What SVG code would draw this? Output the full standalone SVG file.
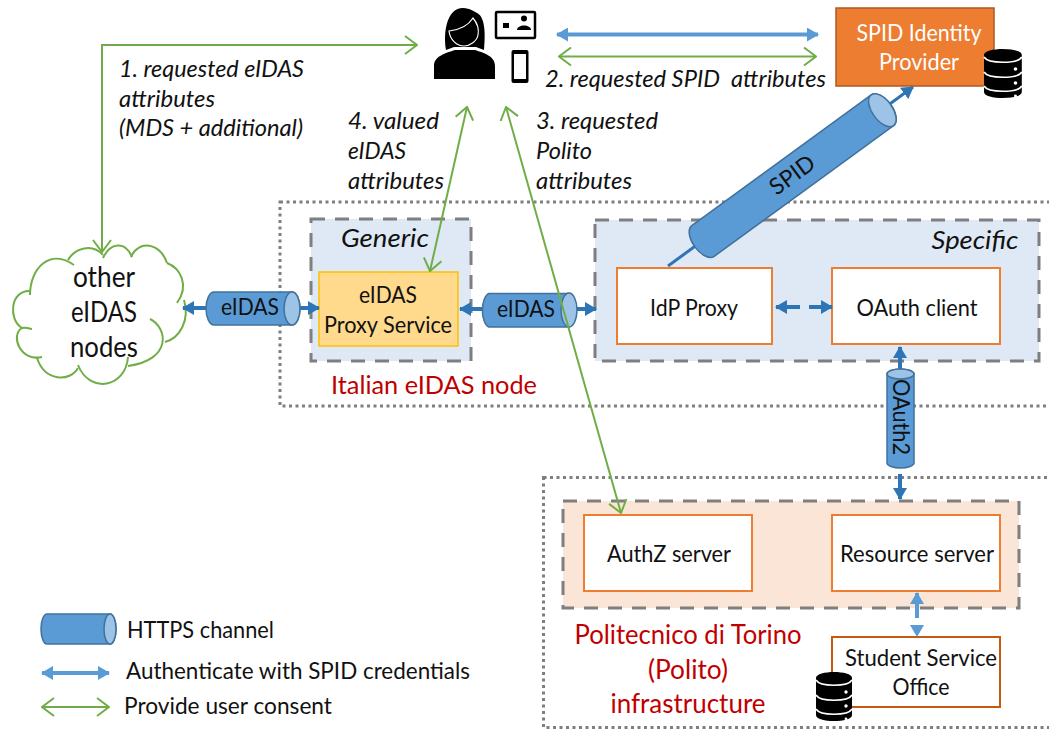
<svg xmlns="http://www.w3.org/2000/svg" xmlns:xlink="http://www.w3.org/1999/xlink" width="1049" height="730" viewBox="0 0 1049 730">
<style>
text{font-family:"Lato","Open Sans","Liberation Sans",sans-serif;font-size:23px;fill:#111;text-anchor:middle}
.l{text-anchor:start}
.i{font-style:italic}
.r{fill:#C00000}
.w{fill:#fff}
.dot{fill:none;stroke:#7F7F7F;stroke-width:3;stroke-dasharray:3 3.5}
.dash{stroke:#7F7F7F;stroke-width:3;stroke-dasharray:14 10}
.box{fill:#fff;stroke:#ED7D31;stroke-width:2}
.cyl{fill:#5B9BD5;stroke:#41719C;stroke-width:1.5}
.cap{fill:#9DC3E6;stroke:#41719C;stroke-width:1.5}
.g{fill:none;stroke:#70AD47;stroke-width:2;marker-start:url(#mg);marker-end:url(#mg)}
.b{fill:none;stroke:#5B9BD5;stroke-width:4;marker-start:url(#ml);marker-end:url(#ml)}
.d{fill:none;stroke:#2E75B6;stroke-width:4;marker-start:url(#md);marker-end:url(#md)}
.d1{fill:none;stroke:#2E75B6;stroke-width:4;marker-end:url(#md)}
.cloud path{fill:none;stroke:#70AD47;stroke-width:2}
</style>
<defs>
<marker id="mg" markerUnits="userSpaceOnUse" viewBox="0 0 14 20" refX="13" refY="10" markerWidth="14" markerHeight="20" orient="auto-start-reverse"><path d="M1,1 L13,10 L1,19" fill="none" stroke="#70AD47" stroke-width="2"/></marker>
<marker id="ml" markerUnits="userSpaceOnUse" viewBox="0 0 12 14" refX="11" refY="7" markerWidth="12" markerHeight="14" orient="auto-start-reverse"><path d="M0,0 L12,7 L0,14Z" fill="#5B9BD5"/></marker>
<marker id="md" markerUnits="userSpaceOnUse" viewBox="0 0 12 14" refX="11" refY="7" markerWidth="12" markerHeight="14" orient="auto-start-reverse"><path d="M0,0 L12,7 L0,14Z" fill="#2E75B6"/></marker>
<g id="db">
<path d="M0,6 C0,-2 36,-2 36,6 V43 C36,51 0,51 0,43Z" fill="#000"/>
<path d="M0,8 C4,15 32,15 36,8 M0,23 C4,30 32,30 36,23 M0,37 C4,44 32,44 36,37" fill="none" stroke="#fff" stroke-width="1.6"/>
<circle cx="30" cy="20" r="1.7" fill="#fff"/><circle cx="30" cy="34" r="1.7" fill="#fff"/><circle cx="30" cy="47" r="1.4" fill="#fff"/>
</g>
</defs>

<g id="italian-node"><rect class="dot" x="280" y="202" width="775" height="204"/>
<text x="434" y="394" style="font-size:25px" class="r" textLength="206" lengthAdjust="spacingAndGlyphs">Italian eIDAS node</text></g>
<g id="polito-infra"><rect class="dot" x="543.5" y="477.5" width="515" height="250"/>
<text x="688" y="644" style="font-size:27px" class="r" textLength="227" lengthAdjust="spacingAndGlyphs">Politecnico di Torino</text>
<text x="688" y="679" style="font-size:27px" class="r" textLength="80" lengthAdjust="spacingAndGlyphs">(Polito)</text>
<text x="688" y="713" style="font-size:27px" class="r" textLength="155" lengthAdjust="spacingAndGlyphs">infrastructure</text></g>
<g id="generic"><rect class="dash" x="311" y="219" width="160" height="142" fill="#DEE9F5"/>
<text x="385" y="247" class="i" style="font-size:25px" textLength="88" lengthAdjust="spacingAndGlyphs">Generic</text></g>
<g id="specific"><rect class="dash" x="595" y="220" width="444" height="141" fill="#DEE9F5"/>
<text x="975" y="249" class="i" style="font-size:25px" textLength="87" lengthAdjust="spacingAndGlyphs">Specific</text></g>
<g id="polito-services"><rect class="dash" x="563" y="501" width="456" height="107" fill="#FBE5D6"/></g>

<g id="eidas-proxy"><rect x="319" y="272" width="139" height="74" fill="#FFD98C" stroke="#FFC000" stroke-width="1.5"/>
<text x="388" y="303" textLength="58" lengthAdjust="spacingAndGlyphs">eIDAS</text>
<text x="388" y="333" textLength="128" lengthAdjust="spacingAndGlyphs">Proxy Service</text></g>
<g id="idp-proxy"><rect class="box" x="617" y="268" width="155" height="76"/><text x="694" y="316" textLength="88" lengthAdjust="spacingAndGlyphs">IdP Proxy</text></g>
<g id="oauth-client"><rect class="box" x="832" y="268" width="168" height="76"/><text x="917" y="316" textLength="121" lengthAdjust="spacingAndGlyphs">OAuth client</text></g>
<g id="authz"><rect class="box" x="584" y="515" width="168" height="76"/><text x="669" y="562" textLength="124" lengthAdjust="spacingAndGlyphs">AuthZ server</text></g>
<g id="resource"><rect class="box" x="832" y="515" width="168" height="76"/><text x="917" y="562" textLength="154" lengthAdjust="spacingAndGlyphs">Resource server</text></g>
<g id="student-office"><rect x="832" y="637" width="168" height="70" fill="#fff" stroke="#C55A11" stroke-width="2"/>
<text x="921" y="666" textLength="152" lengthAdjust="spacingAndGlyphs">Student Service</text>
<text x="921" y="695" textLength="57" lengthAdjust="spacingAndGlyphs">Office</text>
<use xlink:href="#db" href="#db" transform="translate(816,672)"/></g>
<g id="spid-idp"><rect x="836" y="8" width="158" height="78" fill="#ED7D31" stroke="#AE5A21" stroke-width="1.5"/>
<text x="919" y="41" class="w" textLength="125" lengthAdjust="spacingAndGlyphs">SPID Identity</text>
<text x="919" y="70" class="w" textLength="80" lengthAdjust="spacingAndGlyphs">Provider</text>
<use xlink:href="#db" href="#db" transform="translate(984,49) scale(1.05,1)"/></g>
<g id="other-nodes" class="cloud">
<path d="M30,295 C30,268 50,248 74,265"/>
<path d="M68,260 C75,248 92,243 103,255"/>
<path d="M103,258 C110,243 125,240 132,257"/>
<path d="M131,257 C138,240 160,242 167,263"/>
<path d="M167,263 C180,268 190,285 177,303"/>
<path d="M184,300 C190,320 180,338 165,342"/>
<path d="M150,319 C168,328 172,360 128,366"/>
<path d="M128,357 C126,387 90,395 78,365"/>
<path d="M78,368 C70,382 45,382 37,358"/>
<path d="M42,357 C20,362 10,335 22,328 C25,327 28,328 32,329"/>
<path d="M22,328 C8,320 10,290 30,291"/>
<text x="104" y="287" style="font-size:28px" textLength="62" lengthAdjust="spacingAndGlyphs">other</text>
<text x="104" y="322" style="font-size:28px" textLength="66" lengthAdjust="spacingAndGlyphs">eIDAS</text>
<text x="104" y="357" style="font-size:28px" textLength="68" lengthAdjust="spacingAndGlyphs">nodes</text>
</g>
<g id="user">
<path d="M434,79 V66 C434,56 446,53 455,50 L475,50 C484,53 495,56 495,66 V79Z" fill="#000"/>
<path d="M446,50 C443,32 447,8 463,8 C470,8 475,12 477,13 C484,16 486,30 484,50 L476,47 H454Z" fill="#000"/>
<path d="M449,31 C458,30 468,26 473,18 C478,24 479,30 478,35 C477,41 470,46 464,46 C457,46 450,40 449,31Z" fill="#000" stroke="#fff" stroke-width="1.2"/>
<rect x="496" y="12" width="39" height="26" rx="1" fill="#fff" stroke="#000" stroke-width="2.5"/>
<rect x="503" y="23" width="6" height="5" fill="#000"/>
<circle cx="524" cy="18.5" r="3" fill="#000"/>
<path d="M517,30 C517,24 531,24 531,30Z" fill="#000"/>
<rect x="511.500" y="50" width="17" height="33" rx="2" fill="#000"/>
<rect x="514" y="54" width="12" height="25" fill="#fff"/>
</g>

<g id="connectors">
<line class="b" x1="557" y1="34.500" x2="818" y2="34.500"/>
<line class="g" x1="559" y1="56.500" x2="816" y2="56.500"/>
<path class="g" d="M417,45 H102 V252"/>
<line class="d" x1="183" y1="308" x2="319" y2="308"/>
<line class="d" x1="460" y1="309" x2="596" y2="309"/>
<line x1="668" y1="266" x2="913" y2="87" fill="none" stroke="#2E75B6" stroke-width="3" marker-end="url(#md)"/>
<line class="d" x1="776" y1="307" x2="832" y2="307" stroke-dasharray="24 9 23"/>
<line class="d1" x1="900" y1="375" x2="900" y2="347"/>
<line class="d1" x1="900" y1="474" x2="900" y2="499"/>
<line class="b" x1="917" y1="593" x2="917" y2="636" stroke-dasharray="25 18"/>
<g id="ch-eidas-1"><path class="cyl" d="M214,292 H292 A8,16.500 0 0 1 292,325 H214 A8,16.500 0 0 1 214,292Z"/><ellipse class="cap" cx="292" cy="308.500" rx="8" ry="16.500"/><text x="250" y="315" textLength="58" lengthAdjust="spacingAndGlyphs">eIDAS</text></g>
<g id="ch-eidas-2"><path class="cyl" d="M489,293.500 H569 A8,17 0 0 1 569,327 H489 A8,17 0 0 1 489,293.500Z"/><ellipse class="cap" cx="569" cy="310" rx="8" ry="17"/><text x="526" y="317" textLength="58" lengthAdjust="spacingAndGlyphs">eIDAS</text></g>
<g id="ch-spid" transform="translate(703,241) rotate(-36.100)"><path class="cyl" d="M0,-19 H222 A10,19 0 0 1 222,19 H0 A10,19 0 0 1 0,-19Z"/><ellipse class="cap" cx="222" cy="0" rx="10" ry="19"/><text x="111" y="7" textLength="50" lengthAdjust="spacingAndGlyphs">SPID</text></g>
<g id="ch-oauth"><path class="cyl" d="M887,374 A13.500,5 0 0 1 914,374 V463 A13.500,5 0 0 1 887,463Z"/><ellipse class="cap" cx="900.500" cy="374" rx="13.500" ry="5"/><text transform="translate(893,417) rotate(90)" textLength="76" lengthAdjust="spacingAndGlyphs">OAuth2</text></g>
<line class="g" x1="467" y1="107" x2="430" y2="271"/>
<line class="g" x1="506" y1="107" x2="621" y2="513"/>
</g>

<g id="labels">
<text class="i l" x="119" y="77" textLength="185" lengthAdjust="spacingAndGlyphs">1. requested eIDAS</text>
<text class="i l" x="119" y="107" textLength="96" lengthAdjust="spacingAndGlyphs">attributes</text>
<text class="i l" x="119" y="136" textLength="184" lengthAdjust="spacingAndGlyphs">(MDS + additional)</text>
<text class="i l" x="545" y="87" textLength="281" lengthAdjust="spacingAndGlyphs" xml:space="preserve">2. requested SPID  attributes</text>
<text class="i l" x="536" y="129" textLength="122" lengthAdjust="spacingAndGlyphs">3. requested</text>
<text class="i l" x="536" y="159" textLength="56" lengthAdjust="spacingAndGlyphs">Polito</text>
<text class="i l" x="536" y="189" textLength="96" lengthAdjust="spacingAndGlyphs">attributes</text>
<text class="i l" x="348" y="129" textLength="91" lengthAdjust="spacingAndGlyphs">4. valued</text>
<text class="i l" x="348" y="159" textLength="58" lengthAdjust="spacingAndGlyphs">eIDAS</text>
<text class="i l" x="348" y="189" textLength="96" lengthAdjust="spacingAndGlyphs">attributes</text>
</g>

<g id="legend">
<path class="cyl" d="M47,614 H110 A6,15 0 0 1 110,644 H47 A6,15 0 0 1 47,614Z"/><ellipse class="cap" cx="110" cy="629" rx="6" ry="15"/>
<text class="l" x="127" y="638" textLength="147" lengthAdjust="spacingAndGlyphs">HTTPS channel</text>
<line class="b" x1="42" y1="673" x2="109" y2="673"/>
<text class="l" x="126" y="679" textLength="344" lengthAdjust="spacingAndGlyphs">Authenticate with SPID credentials</text>
<line class="g" x1="42" y1="707" x2="109" y2="707"/>
<text class="l" x="124" y="714" textLength="208" lengthAdjust="spacingAndGlyphs">Provide user consent</text>
</g>
</svg>
